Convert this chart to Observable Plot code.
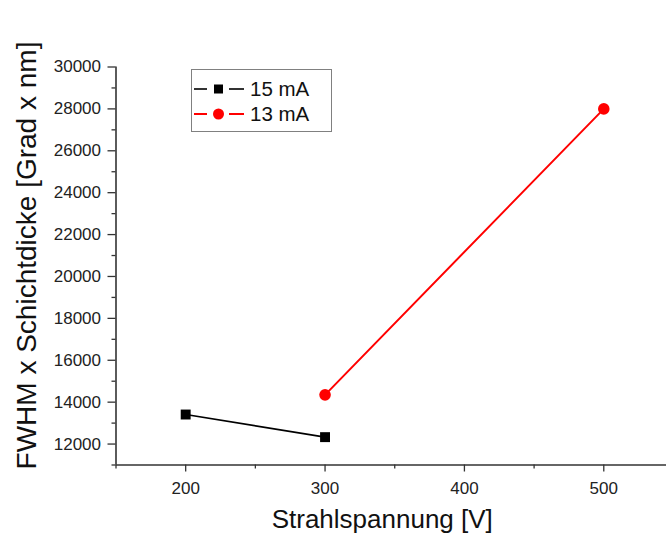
<!DOCTYPE html>
<html>
<head>
<meta charset="utf-8">
<script src="https://cdn.jsdelivr.net/npm/d3@7"></script>
<script src="https://cdn.jsdelivr.net/npm/@observablehq/plot@0.6"></script>
<style>
  html, body { margin: 0; padding: 0; background: #fff; }
  #wrap { position: relative; width: 666px; height: 533px; font-family: "Liberation Sans", Arial, sans-serif; }
  #legend { position: absolute; left: 191px; top: 69px; width: 141px; height: 63px; border: 1px solid #808080; box-sizing: border-box; background: #fff; }
  .row { position: absolute; left: 0; height: 24px; }
  .row svg { position: absolute; left: 1px; top: 0; }
  .row span { position: absolute; left: 58px; top: 0; line-height: 24px; font-size: 20.5px; color: #111; white-space: nowrap; }
</style>
</head>
<body>
<div id="wrap"></div>
<script>
// ---- data ----
const series = ["15 mA", "13 mA"];
const colors = ["#000000", "#ff0000"];
const voltage15 = [200, 300];
const fwhm15 = [13410, 12330];
const voltage13 = [300, 500];
const fwhm13 = [14350, 28000];
const xTicks = [200, 300, 400, 500];
const xMinor = [150, 250, 350, 450];
const yTicks = [12000, 14000, 16000, 18000, 20000, 22000, 24000, 26000, 28000, 30000];
const yMinor = [11000, 13000, 15000, 17000, 19000, 21000, 23000, 25000, 27000, 29000];
const xLabel = "Strahlspannung [V]";
const yLabel = "FWHM x Schichtdicke [Grad x nm]";

const rows15 = voltage15.map((v, i) => ({x: v, y: fwhm15[i], s: series[0]}));
const rows13 = voltage13.map((v, i) => ({x: v, y: fwhm13[i], s: series[1]}));

const axisColor = "#333";
const font = "Liberation Sans, Arial, sans-serif";

const chart = Plot.plot({
  width: 666,
  height: 533,
  marginLeft: 115.5,
  marginRight: 0,
  marginTop: 66.5,
  marginBottom: 68.5,
  style: {fontFamily: font, color: "#222", background: "transparent", overflow: "visible"},
  x: {domain: [150, 545]},
  y: {domain: [11000, 30000]},
  marks: [
    Plot.axisX(xTicks, {tickSize: 7, tickPadding: 10, fontSize: 17, stroke: axisColor, strokeWidth: 1.3, tickFormat: d => String(d), label: null}),
    Plot.axisX(xMinor, {tickSize: 4, text: null, stroke: axisColor, strokeWidth: 1.3, label: null}),
    Plot.axisY(yTicks, {tickSize: 8, tickPadding: 7, fontSize: 17, stroke: axisColor, strokeWidth: 1.3, tickFormat: d => String(d), label: null}),
    Plot.axisY(yMinor, {tickSize: 4, text: null, stroke: axisColor, strokeWidth: 1.3, label: null}),
    Plot.ruleX([150], {stroke: axisColor, strokeWidth: 1.6}),
    Plot.ruleY([11000], {stroke: axisColor, strokeWidth: 1.6}),
    Plot.line(rows15, {x: "x", y: "y", stroke: colors[0], strokeWidth: 1.6}),
    Plot.dot(rows15, {x: "x", y: "y", symbol: "square", r: 5.6, fill: colors[0]}),
    Plot.line(rows13, {x: "x", y: "y", stroke: colors[1], strokeWidth: 2}),
    Plot.dot(rows13, {x: "x", y: "y", symbol: "circle", r: 5.8, fill: colors[1]}),
    Plot.text([xLabel], {text: d => d, frameAnchor: "bottom", textAnchor: "middle", lineAnchor: "bottom", dx: -9, dy: 62.5, fontSize: 26, fill: "#111", fontFamily: font}),
    Plot.text([yLabel], {text: d => d, frameAnchor: "left", textAnchor: "middle", lineAnchor: "bottom", rotate: -90, dx: -80, dy: -10.5, fontSize: 28, fill: "#111", fontFamily: font})
  ]
});

const wrap = document.getElementById("wrap");
wrap.appendChild(chart);

// legend
const legend = document.createElement("div");
legend.id = "legend";
const markers = ["square", "circle"];
series.forEach((name, i) => {
  const row = document.createElement("div");
  row.className = "row";
  row.style.top = (7 + i * 25) + "px";
  const c = colors[i];
  const m = markers[i] === "square"
    ? `<rect x="21" y="7.5" width="9" height="9" fill="${c}"/>`
    : `<circle cx="25.5" cy="12" r="5.5" fill="${c}"/>`;
  row.innerHTML = `<svg width="54" height="24">
      <line x1="1" x2="14" y1="12" y2="12" stroke="${c}" stroke-width="${i ? 2 : 1.6}"/>
      ${m}
      <line x1="36" x2="51" y1="12" y2="12" stroke="${c}" stroke-width="${i ? 2 : 1.6}"/>
    </svg><span>${name}</span>`;
  legend.appendChild(row);
});
wrap.appendChild(legend);
</script>
</body>
</html>
